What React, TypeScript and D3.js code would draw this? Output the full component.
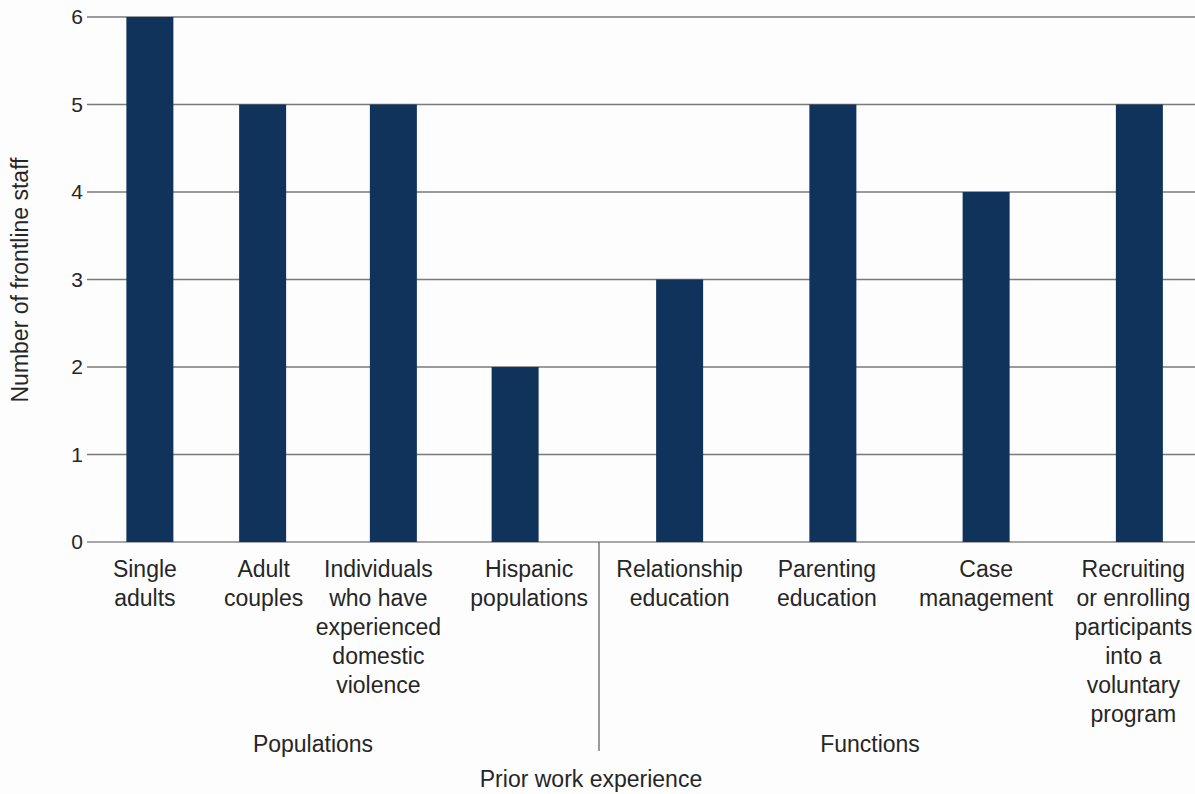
import React from "react";
import * as d3 from "d3";

// Staff counts by prior work experience, split into two groups
const populationCategories = [
  ["Single", "adults"],
  ["Adult", "couples"],
  ["Individuals", "who have", "experienced", "domestic", "violence"],
  ["Hispanic", "populations"],
];
const populationValues = [6, 5, 5, 2];

const functionCategories = [
  ["Relationship", "education"],
  ["Parenting", "education"],
  ["Case", "management"],
  ["Recruiting", "or enrolling", "participants", "into a", "voluntary", "program"],
];
const functionValues = [3, 5, 4, 5];

const groupLabels = ["Populations", "Functions"];
const yTicks = [0, 1, 2, 3, 4, 5, 6];
const xTitle = "Prior work experience";
const yTitle = "Number of frontline staff";

const W = 1195;
const H = 794;
const plotLeft = 93;
const plotRight = 1195;
const plotTop = 17;
const plotBottom = 542;
const dividerX = 599;
const barWidth = 47;
const barColor = "#0f335b";
const gridColor = "#7a7a7a";
const textColor = "#262626";
const font = "'Liberation Sans', Arial, sans-serif";
const labelSize = 23;

export default function App() {
  const y = d3.scaleLinear().domain([0, 6]).range([plotBottom, plotTop]);

  const groups = [
    {
      cats: populationCategories,
      vals: populationValues,
      x: d3.scaleBand<number>().domain([0, 1, 2, 3]).range([89, 576]),
      barShift: [0, -9, 0, 0],
      labelShift: [-5, -8, -15, 14],
      label: groupLabels[0],
      labelX: 313,
    },
    {
      cats: functionCategories,
      vals: functionValues,
      x: d3.scaleBand<number>().domain([0, 1, 2, 3]).range([603, 1216]),
      barShift: [0, 0, 0, 0],
      labelShift: [0, -6, 0, -6],
      label: groupLabels[1],
      labelX: 870,
    },
  ];

  return (
    <div style={{ position: "fixed", left: 0, top: 0 }}>
      <svg width={W} height={H} style={{ display: "block", background: "#fdfdfd" }}>
        {yTicks.map((t) => (
          <g key={t}>
            <line
              x1={87}
              x2={plotRight}
              y1={y(t)}
              y2={y(t)}
              stroke={t === 0 ? "#8a8a8a" : gridColor}
              strokeWidth={1.3}
            />
            <text
              x={83}
              y={y(t)}
              dy="0.35em"
              textAnchor="end"
              fontFamily={font}
              fontSize={21}
              fill={textColor}
            >
              {t}
            </text>
          </g>
        ))}

        {groups.map((g, gi) => (
          <g key={gi}>
            {g.vals.map((v, i) => {
              const cx = (g.x(i) as number) + g.x.bandwidth() / 2 + g.barShift[i];
              const lx = cx + g.labelShift[i] - g.barShift[i];
              return (
                <g key={i}>
                  <rect
                    x={cx - barWidth / 2}
                    y={y(v)}
                    width={barWidth}
                    height={y(0) - y(v)}
                    fill={barColor}
                  />
                  <text
                    x={lx}
                    y={577}
                    textAnchor="middle"
                    fontFamily={font}
                    fontSize={labelSize}
                    fill={textColor}
                  >
                    {g.cats[i].map((line, li) => (
                      <tspan key={li} x={lx} dy={li === 0 ? 0 : 29}>
                        {line}
                      </tspan>
                    ))}
                  </text>
                </g>
              );
            })}
            <text
              x={g.labelX}
              y={752}
              textAnchor="middle"
              fontFamily={font}
              fontSize={labelSize}
              fill={textColor}
            >
              {g.label}
            </text>
          </g>
        ))}

        <line x1={dividerX} x2={dividerX} y1={plotBottom} y2={751} stroke="#666" strokeWidth={1.3} />

        <text x={591} y={787} textAnchor="middle" fontFamily={font} fontSize={labelSize} fill={textColor}>
          {xTitle}
        </text>
        <text
          transform={`translate(28, 280) rotate(-90)`}
          textAnchor="middle"
          fontFamily={font}
          fontSize={23}
          fill={textColor}
        >
          {yTitle}
        </text>
      </svg>
    </div>
  );
}
